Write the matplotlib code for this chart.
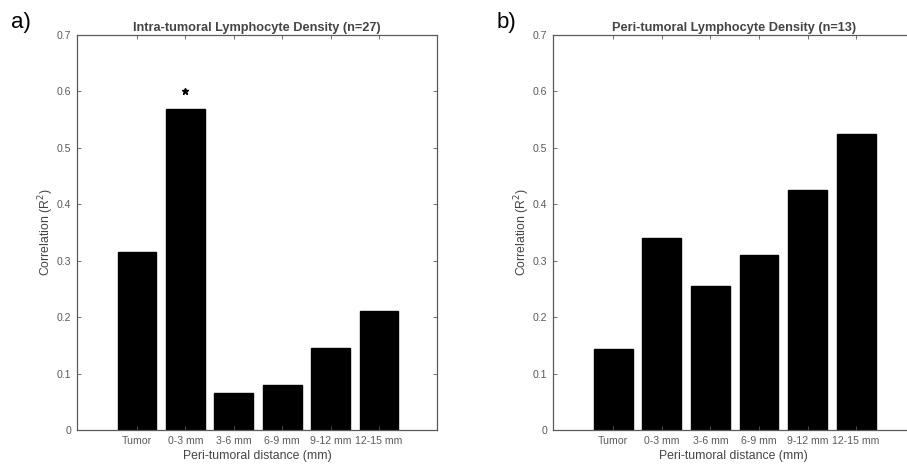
import numpy as np
import matplotlib.pyplot as plt

plt.rcParams['font.family'] = ['Liberation Sans', 'DejaVu Sans']

categories = ['Tumor', '0-3 mm', '3-6 mm', '6-9 mm', '9-12 mm', '12-15 mm']
intra_r2 = [0.315, 0.568, 0.065, 0.080, 0.146, 0.211]
peri_r2 = [0.143, 0.341, 0.255, 0.311, 0.426, 0.525]
intra_sig = [1]  # index of bar marked significant
sig_level = 0.6

titles = ['Intra-tumoral Lymphocyte Density (n=27)',
          'Peri-tumoral Lymphocyte Density (n=13)']
panel_labels = ['a)', 'b)']

fig = plt.figure(figsize=(9.07, 4.65), dpi=100)
ax1 = fig.add_axes([0.0849, 0.0753, 0.397, 0.8494])
ax2 = fig.add_axes([0.6097, 0.0753, 0.3985, 0.8494])

gray = '#5a5a5a'
x = np.arange(1, len(categories) + 1)

for ax, vals, title in zip([ax1, ax2], [intra_r2, peri_r2], titles):
    ax.bar(x, vals, width=0.8, color='black', edgecolor='black')
    ax.set_xlim(-0.24, 7.2)
    ax.set_ylim(0, 0.7)
    ax.set_xticks(x)
    ax.set_xticklabels(categories)
    ax.set_yticks(np.arange(0, 0.71, 0.1))
    ax.set_yticklabels(['0', '0.1', '0.2', '0.3', '0.4', '0.5', '0.6', '0.7'])
    ax.tick_params(direction='in', length=3, width=0.6, colors=gray, labelsize=7.6,
                   top=True, right=True, pad=4)
    for s in ax.spines.values():
        s.set_color(gray)
        s.set_linewidth(0.9)
    ax.set_title(title, fontsize=9.2, fontweight='bold', color='#444444', pad=3)
    ax.set_xlabel('Peri-tumoral distance (mm)', fontsize=8.8, color='#444444', labelpad=3)
    ax.set_ylabel('Correlation (R$^2$)', fontsize=8.8, color='#444444', labelpad=1)

# panel letters
fig.text(11 / 907, 1 - 12 / 465, panel_labels[0], fontsize=16, ha='left', va='top')
fig.text(497 / 907, 1 - 12 / 465, panel_labels[1], fontsize=16, ha='left', va='top')

for i in intra_sig:
    ax1.plot(x[i], sig_level, marker='*', color='black', markersize=5)

fig.savefig('out.png', dpi=100)
